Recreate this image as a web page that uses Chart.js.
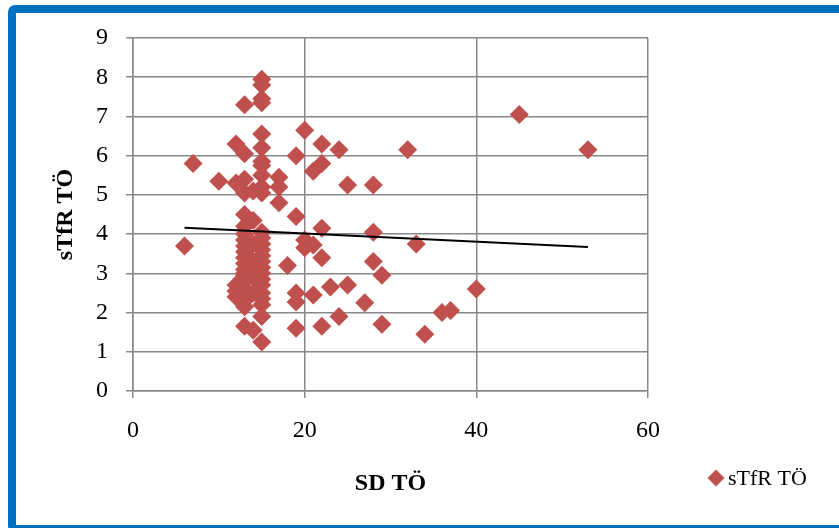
<!DOCTYPE html>
<html>
<head>
<meta charset="utf-8">
<script src="https://cdn.jsdelivr.net/npm/chart.js@4/dist/chart.umd.min.js"></script>
<style>
  html, body { margin: 0; padding: 0; background: #ffffff; overflow: hidden; }
  #wrap { position: relative; width: 839px; height: 528px; overflow: hidden; background: #ffffff; }
  #plot { position: absolute; left: 0; top: 0; }
  #frame {
    position: absolute; left: 8px; top: 5px; width: 1400px; height: 528px;
    box-sizing: border-box; border: 8px solid #0070C0; border-radius: 7px;
    pointer-events: none;
  }
</style>
</head>
<body>
<div id="wrap">
  <canvas id="plot" width="839" height="528"></canvas>
  <div id="frame"></div>
</div>
<script>
// SD TÖ (x) against sTfR TÖ (y), one entry per subject
const sdValues = [
  6, 7, 10, 12, 13, 13, 15, 15, 15, 15, 15, 15, 15, 15, 15,
  12, 13, 13, 14, 15, 15, 17, 17, 17, 19, 19, 20, 21, 22, 22,
  24, 25, 28, 32, 45, 53, 22, 28, 20, 20, 21, 22, 33, 18, 28,
  29, 40, 19, 19, 21, 23, 25, 27, 36, 37, 19, 22, 24, 29, 34,
  13, 13, 13, 13, 13, 13, 13, 13, 13, 13, 13, 13, 13, 13, 13, 13, 13,
  12, 12, 12,
  14, 14, 14, 14, 14, 14,
  15, 15, 15, 15, 15, 15, 15, 15, 15, 15, 15, 15, 15, 15, 15
];
const stfrValues = [
  3.7, 5.8, 5.35, 6.3, 6.05, 7.3, 7.95, 7.8, 7.45, 7.35, 6.55, 6.2, 5.85, 5.75, 5.5,
  5.3, 5.4, 5.05, 5.1, 5.2, 5.05, 5.45, 5.2, 4.8, 6.0, 4.45, 6.65, 5.6, 5.8, 6.3,
  6.15, 5.25, 5.25, 6.15, 7.05, 6.15, 4.15, 4.05, 3.85, 3.65, 3.72, 3.4, 3.75, 3.2, 3.3,
  2.95, 2.6, 2.5, 2.27, 2.45, 2.65, 2.7, 2.25, 2.0, 2.05, 1.6, 1.65, 1.9, 1.7, 1.45,
  4.5, 4.2, 4.0, 3.85, 3.7, 3.55, 3.4, 3.25, 3.1, 2.95, 2.8, 2.6, 2.45, 2.3, 2.15, 1.65, 3.0,
  2.7, 2.4, 2.55,
  4.35, 3.75, 3.3, 2.9, 2.5, 1.55,
  4.05, 3.9, 3.75, 3.6, 3.45, 3.3, 3.15, 3.0, 2.85, 2.7, 2.5, 2.35, 2.2, 1.9, 1.25
];
// Linear trend line end points
const trendX = [6, 53];
const trendY = [4.16, 3.67];

const xTicks = [0, 20, 40, 60];
const yTicks = [0, 1, 2, 3, 4, 5, 6, 7, 8, 9];

const seriesName = 'sTfR TÖ';
const xTitle = 'SD TÖ';
const yTitle = 'sTfR TÖ';

const markerColor = '#C0504D';
const gridColor = '#888888';
const serif = '"Liberation Serif", "Times New Roman", serif';

const points = sdValues.map((x, i) => ({ x: x, y: stfrValues[i] }));
const trend = trendX.map((x, i) => ({ x: x, y: trendY[i] }));

// Legend entry drawn in the lower right corner
const legendPlugin = {
  id: 'cornerLegend',
  afterDraw(chart) {
    const ctx = chart.ctx;
    const cx = 716, cy = 478, r = 8.5;
    ctx.save();
    ctx.fillStyle = markerColor;
    ctx.beginPath();
    ctx.moveTo(cx - r, cy);
    ctx.lineTo(cx, cy - r);
    ctx.lineTo(cx + r, cy);
    ctx.lineTo(cx, cy + r);
    ctx.closePath();
    ctx.fill();
    ctx.fillStyle = '#000000';
    ctx.font = '22px ' + serif;
    ctx.textBaseline = 'middle';
    ctx.textAlign = 'left';
    ctx.fillText(seriesName, 728, cy + 1);
    ctx.restore();
  }
};

new Chart(document.getElementById('plot'), {
  data: {
    datasets: [
      {
        type: 'line',
        label: 'trend',
        data: trend,
        borderColor: '#000000',
        borderWidth: 2,
        pointRadius: 0,
        fill: false,
        order: 0
      },
      {
        type: 'scatter',
        label: seriesName,
        data: points,
        pointStyle: 'rectRot',
        pointRadius: 9.5,
        pointBackgroundColor: markerColor,
        pointBorderColor: markerColor,
        pointBorderWidth: 0,
        order: 1
      }
    ]
  },
  plugins: [legendPlugin],
  options: {
    responsive: false,
    animation: false,
    devicePixelRatio: 1,
    layout: { autoPadding: false, padding: { left: 0, top: 38, right: 191, bottom: 0 } },
    plugins: { legend: { display: false }, tooltip: { enabled: false } },
    scales: {
      x: {
        type: 'linear',
        min: 0, max: 60,
        afterFit(s) { s.height = 137; },
        afterBuildTicks(s) { s.ticks = xTicks.map(v => ({ value: v })); },
        grid: { color: gridColor, lineWidth: 1.5, tickLength: 7, drawTicks: true },
        border: { color: gridColor, width: 1.5 },
        ticks: { color: '#000000', padding: 18, font: { family: serif, size: 24 } },
        title: {
          display: true, text: xTitle, color: '#000000',
          font: { family: serif, size: 24, weight: 'bold' },
          padding: { top: 30, bottom: 30 }
        }
      },
      y: {
        type: 'linear',
        min: 0, max: 9,
        afterFit(s) { s.width = 133; },
        afterBuildTicks(s) { s.ticks = yTicks.map(v => ({ value: v })); },
        grid: { color: gridColor, lineWidth: 1.5, tickLength: 7, drawTicks: true },
        border: { color: gridColor, width: 1.5 },
        ticks: { color: '#000000', padding: 18, font: { family: serif, size: 24 } },
        title: {
          display: true, text: yTitle, color: '#000000',
          font: { family: serif, size: 24, weight: 'bold' },
          padding: { top: 51, bottom: 0 }
        }
      }
    }
  }
});
</script>
</body>
</html>
